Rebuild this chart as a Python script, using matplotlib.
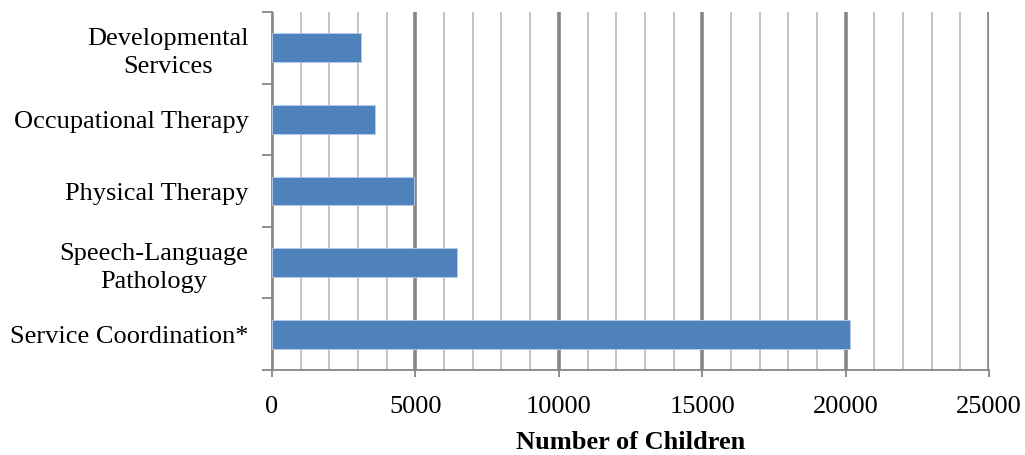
import matplotlib.pyplot as plt
from matplotlib.ticker import MultipleLocator

categories = ["Service Coordination*", "Speech-Language\nPathology", "Physical Therapy",
              "Occupational Therapy", "Developmental\nServices"]
children = [20150, 6450, 4950, 3600, 3100]

plt.rcParams['font.family'] = ['Liberation Serif', 'DejaVu Serif']

fig = plt.figure(figsize=(10.25, 4.55), dpi=100)
ax = fig.add_axes([0.2654, 0.1868, 0.6995, 0.7868])

ypos = range(len(categories))
ax.barh(ypos, children, height=0.4, color='#4F81BD', edgecolor='#B9CDE5', linewidth=0.6, zorder=3)

ax.set_xlim(0, 25000)
ax.set_ylim(-0.5, len(categories) - 0.5)
ax.xaxis.set_major_locator(MultipleLocator(5000))
ax.xaxis.set_minor_locator(MultipleLocator(1000))
ax.grid(which='minor', axis='x', color='#BEBEBE', linewidth=1.3, zorder=1)
ax.grid(which='major', axis='x', color='#868686', linewidth=2.6, zorder=2)

# y ticks sit between categories, labels centred on bars
ax.set_yticks([i - 0.5 for i in range(len(categories) + 1)])
ax.set_yticklabels([])
ax.set_yticks(list(ypos), minor=True)
ax.set_yticklabels(categories, minor=True, fontsize=19, multialignment='center', linespacing=1.35)
ax.tick_params(axis='y', which='minor', length=0, pad=17)
ax.tick_params(axis='y', which='major', length=7, width=1.3, color='#868686')
ax.tick_params(axis='x', which='major', length=5, width=1.3, color='#868686', labelsize=19, pad=14)
ax.tick_params(axis='x', which='minor', length=0)

for side in ['top', 'right']:
    ax.spines[side].set_visible(False)
for side in ['left', 'bottom']:
    ax.spines[side].set_color('#868686')
    ax.spines[side].set_linewidth(1.3)

ax.set_xlabel("Number of Children", fontsize=19, fontweight='bold', labelpad=9)

fig.savefig("out.png", dpi=100)
